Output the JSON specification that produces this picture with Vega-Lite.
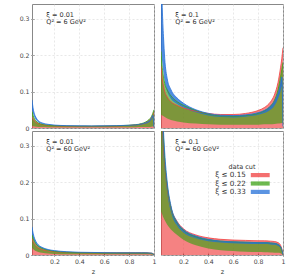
{
"$schema": "https://vega.github.io/schema/vega-lite/v6.json",
"padding": {"left": 19, "top": 3, "right": 5, "bottom": 5},
"config": {
  "font": "DejaVu Sans",
  "view": {"stroke": "#888888", "strokeWidth": 1},
  "axis": {"grid": true, "gridColor": "#d8d8d8", "gridDash": [2, 2], "gridWidth": 0.6, "domain": false, "tickColor": "#555555", "tickSize": -3, "labelPadding": 5, "labelFontSize": 6.2, "labelColor": "#444444", "labelOverlap": false, "labelFlush": false, "titleFontSize": 6.5, "titleFontWeight": "normal", "titleColor": "#333333"},
  "legend": {"orient": "none", "legendX": 183, "legendY": 160, "titleFontSize": 6.5, "titleFontWeight": "normal", "titleColor": "#333333", "labelFontSize": 7.2, "labelColor": "#333333", "symbolType": "M9.2,-0.6H14.6V0.6H9.2Z", "symbolSize": 49, "symbolStrokeWidth": 0, "symbolOpacity": 0.75, "labelAlign": "left", "labelOffset": -7, "rowPadding": 0.4, "titleAnchor": "middle", "titlePadding": 1}
},
"data": {"values": [
{"xi":0.01,"q2":6,"c":"ξ ≤ 0.15","z":0.02,"lo":0,"hi":0.030},
{"xi":0.01,"q2":6,"c":"ξ ≤ 0.15","z":0.03,"lo":0,"hi":0.024},
{"xi":0.01,"q2":6,"c":"ξ ≤ 0.15","z":0.04,"lo":0,"hi":0.019},
{"xi":0.01,"q2":6,"c":"ξ ≤ 0.15","z":0.05,"lo":0,"hi":0.016},
{"xi":0.01,"q2":6,"c":"ξ ≤ 0.15","z":0.07,"lo":0,"hi":0.012},
{"xi":0.01,"q2":6,"c":"ξ ≤ 0.15","z":0.1,"lo":0,"hi":0.009},
{"xi":0.01,"q2":6,"c":"ξ ≤ 0.15","z":0.15,"lo":0,"hi":0.007},
{"xi":0.01,"q2":6,"c":"ξ ≤ 0.15","z":0.2,"lo":0,"hi":0.006},
{"xi":0.01,"q2":6,"c":"ξ ≤ 0.15","z":0.3,"lo":0,"hi":0.005},
{"xi":0.01,"q2":6,"c":"ξ ≤ 0.15","z":0.4,"lo":0,"hi":0.0045},
{"xi":0.01,"q2":6,"c":"ξ ≤ 0.15","z":0.5,"lo":0,"hi":0.0045},
{"xi":0.01,"q2":6,"c":"ξ ≤ 0.15","z":0.6,"lo":0,"hi":0.005},
{"xi":0.01,"q2":6,"c":"ξ ≤ 0.15","z":0.7,"lo":0,"hi":0.0055},
{"xi":0.01,"q2":6,"c":"ξ ≤ 0.15","z":0.8,"lo":0,"hi":0.007},
{"xi":0.01,"q2":6,"c":"ξ ≤ 0.15","z":0.85,"lo":0,"hi":0.0085},
{"xi":0.01,"q2":6,"c":"ξ ≤ 0.15","z":0.9,"lo":0,"hi":0.011},
{"xi":0.01,"q2":6,"c":"ξ ≤ 0.15","z":0.93,"lo":0,"hi":0.014},
{"xi":0.01,"q2":6,"c":"ξ ≤ 0.15","z":0.96,"lo":0,"hi":0.020},
{"xi":0.01,"q2":6,"c":"ξ ≤ 0.15","z":0.98,"lo":0,"hi":0.028},
{"xi":0.01,"q2":6,"c":"ξ ≤ 0.15","z":0.99,"lo":0,"hi":0.035},
{"xi":0.01,"q2":6,"c":"ξ ≤ 0.15","z":1,"lo":0,"hi":0.045},
{"xi":0.01,"q2":6,"c":"ξ ≤ 0.22","z":0.02,"lo":0.006,"hi":0.045},
{"xi":0.01,"q2":6,"c":"ξ ≤ 0.22","z":0.03,"lo":0.005,"hi":0.033},
{"xi":0.01,"q2":6,"c":"ξ ≤ 0.22","z":0.04,"lo":0.004,"hi":0.025},
{"xi":0.01,"q2":6,"c":"ξ ≤ 0.22","z":0.05,"lo":0.0035,"hi":0.020},
{"xi":0.01,"q2":6,"c":"ξ ≤ 0.22","z":0.07,"lo":0.003,"hi":0.014},
{"xi":0.01,"q2":6,"c":"ξ ≤ 0.22","z":0.1,"lo":0.0025,"hi":0.010},
{"xi":0.01,"q2":6,"c":"ξ ≤ 0.22","z":0.15,"lo":0.002,"hi":0.0075},
{"xi":0.01,"q2":6,"c":"ξ ≤ 0.22","z":0.2,"lo":0.002,"hi":0.0065},
{"xi":0.01,"q2":6,"c":"ξ ≤ 0.22","z":0.3,"lo":0.002,"hi":0.0055},
{"xi":0.01,"q2":6,"c":"ξ ≤ 0.22","z":0.4,"lo":0.002,"hi":0.005},
{"xi":0.01,"q2":6,"c":"ξ ≤ 0.22","z":0.5,"lo":0.002,"hi":0.005},
{"xi":0.01,"q2":6,"c":"ξ ≤ 0.22","z":0.6,"lo":0.002,"hi":0.0052},
{"xi":0.01,"q2":6,"c":"ξ ≤ 0.22","z":0.7,"lo":0.002,"hi":0.006},
{"xi":0.01,"q2":6,"c":"ξ ≤ 0.22","z":0.8,"lo":0.002,"hi":0.0075},
{"xi":0.01,"q2":6,"c":"ξ ≤ 0.22","z":0.85,"lo":0.002,"hi":0.009},
{"xi":0.01,"q2":6,"c":"ξ ≤ 0.22","z":0.9,"lo":0.0025,"hi":0.012},
{"xi":0.01,"q2":6,"c":"ξ ≤ 0.22","z":0.93,"lo":0.003,"hi":0.016},
{"xi":0.01,"q2":6,"c":"ξ ≤ 0.22","z":0.96,"lo":0.003,"hi":0.023},
{"xi":0.01,"q2":6,"c":"ξ ≤ 0.22","z":0.98,"lo":0.0035,"hi":0.032},
{"xi":0.01,"q2":6,"c":"ξ ≤ 0.22","z":0.99,"lo":0.004,"hi":0.040},
{"xi":0.01,"q2":6,"c":"ξ ≤ 0.22","z":1,"lo":0.004,"hi":0.050},
{"xi":0.01,"q2":6,"c":"ξ ≤ 0.33","z":0.02,"lo":0.050,"hi":0.077},
{"xi":0.01,"q2":6,"c":"ξ ≤ 0.33","z":0.03,"lo":0.038,"hi":0.052},
{"xi":0.01,"q2":6,"c":"ξ ≤ 0.33","z":0.04,"lo":0.029,"hi":0.038},
{"xi":0.01,"q2":6,"c":"ξ ≤ 0.33","z":0.05,"lo":0.023,"hi":0.030},
{"xi":0.01,"q2":6,"c":"ξ ≤ 0.33","z":0.07,"lo":0.016,"hi":0.020},
{"xi":0.01,"q2":6,"c":"ξ ≤ 0.33","z":0.1,"lo":0.011,"hi":0.014},
{"xi":0.01,"q2":6,"c":"ξ ≤ 0.33","z":0.15,"lo":0.008,"hi":0.010},
{"xi":0.01,"q2":6,"c":"ξ ≤ 0.33","z":0.2,"lo":0.0065,"hi":0.008},
{"xi":0.01,"q2":6,"c":"ξ ≤ 0.33","z":0.3,"lo":0.0055,"hi":0.0065},
{"xi":0.01,"q2":6,"c":"ξ ≤ 0.33","z":0.4,"lo":0.005,"hi":0.006},
{"xi":0.01,"q2":6,"c":"ξ ≤ 0.33","z":0.5,"lo":0.0048,"hi":0.0058},
{"xi":0.01,"q2":6,"c":"ξ ≤ 0.33","z":0.6,"lo":0.005,"hi":0.006},
{"xi":0.01,"q2":6,"c":"ξ ≤ 0.33","z":0.7,"lo":0.0055,"hi":0.0065},
{"xi":0.01,"q2":6,"c":"ξ ≤ 0.33","z":0.8,"lo":0.0065,"hi":0.0075},
{"xi":0.01,"q2":6,"c":"ξ ≤ 0.33","z":0.85,"lo":0.0075,"hi":0.0085},
{"xi":0.01,"q2":6,"c":"ξ ≤ 0.33","z":0.9,"lo":0.0095,"hi":0.011},
{"xi":0.01,"q2":6,"c":"ξ ≤ 0.33","z":0.93,"lo":0.012,"hi":0.014},
{"xi":0.01,"q2":6,"c":"ξ ≤ 0.33","z":0.96,"lo":0.016,"hi":0.019},
{"xi":0.01,"q2":6,"c":"ξ ≤ 0.33","z":0.98,"lo":0.023,"hi":0.027},
{"xi":0.01,"q2":6,"c":"ξ ≤ 0.33","z":0.99,"lo":0.029,"hi":0.035},
{"xi":0.01,"q2":6,"c":"ξ ≤ 0.33","z":1,"lo":0,"hi":0.002},
{"xi":0.1,"q2":6,"c":"ξ ≤ 0.15","z":0.02,"lo":0,"hi":0.17},
{"xi":0.1,"q2":6,"c":"ξ ≤ 0.15","z":0.03,"lo":0,"hi":0.135},
{"xi":0.1,"q2":6,"c":"ξ ≤ 0.15","z":0.04,"lo":0,"hi":0.115},
{"xi":0.1,"q2":6,"c":"ξ ≤ 0.15","z":0.05,"lo":0,"hi":0.10},
{"xi":0.1,"q2":6,"c":"ξ ≤ 0.15","z":0.07,"lo":0,"hi":0.085},
{"xi":0.1,"q2":6,"c":"ξ ≤ 0.15","z":0.1,"lo":0,"hi":0.072},
{"xi":0.1,"q2":6,"c":"ξ ≤ 0.15","z":0.15,"lo":0,"hi":0.062},
{"xi":0.1,"q2":6,"c":"ξ ≤ 0.15","z":0.2,"lo":0,"hi":0.055},
{"xi":0.1,"q2":6,"c":"ξ ≤ 0.15","z":0.3,"lo":0,"hi":0.046},
{"xi":0.1,"q2":6,"c":"ξ ≤ 0.15","z":0.4,"lo":0,"hi":0.040},
{"xi":0.1,"q2":6,"c":"ξ ≤ 0.15","z":0.5,"lo":0,"hi":0.037},
{"xi":0.1,"q2":6,"c":"ξ ≤ 0.15","z":0.6,"lo":0,"hi":0.037},
{"xi":0.1,"q2":6,"c":"ξ ≤ 0.15","z":0.7,"lo":0,"hi":0.040},
{"xi":0.1,"q2":6,"c":"ξ ≤ 0.15","z":0.8,"lo":0,"hi":0.048},
{"xi":0.1,"q2":6,"c":"ξ ≤ 0.15","z":0.85,"lo":0,"hi":0.056},
{"xi":0.1,"q2":6,"c":"ξ ≤ 0.15","z":0.9,"lo":0,"hi":0.072},
{"xi":0.1,"q2":6,"c":"ξ ≤ 0.15","z":0.93,"lo":0,"hi":0.090},
{"xi":0.1,"q2":6,"c":"ξ ≤ 0.15","z":0.96,"lo":0,"hi":0.125},
{"xi":0.1,"q2":6,"c":"ξ ≤ 0.15","z":0.98,"lo":0,"hi":0.165},
{"xi":0.1,"q2":6,"c":"ξ ≤ 0.15","z":0.99,"lo":0,"hi":0.19},
{"xi":0.1,"q2":6,"c":"ξ ≤ 0.15","z":1,"lo":0,"hi":0.22},
{"xi":0.1,"q2":6,"c":"ξ ≤ 0.22","z":0.02,"lo":0.036,"hi":0.21},
{"xi":0.1,"q2":6,"c":"ξ ≤ 0.22","z":0.03,"lo":0.034,"hi":0.165},
{"xi":0.1,"q2":6,"c":"ξ ≤ 0.22","z":0.04,"lo":0.032,"hi":0.14},
{"xi":0.1,"q2":6,"c":"ξ ≤ 0.22","z":0.05,"lo":0.030,"hi":0.122},
{"xi":0.1,"q2":6,"c":"ξ ≤ 0.22","z":0.07,"lo":0.026,"hi":0.105},
{"xi":0.1,"q2":6,"c":"ξ ≤ 0.22","z":0.1,"lo":0.022,"hi":0.088},
{"xi":0.1,"q2":6,"c":"ξ ≤ 0.22","z":0.15,"lo":0.018,"hi":0.072},
{"xi":0.1,"q2":6,"c":"ξ ≤ 0.22","z":0.2,"lo":0.015,"hi":0.062},
{"xi":0.1,"q2":6,"c":"ξ ≤ 0.22","z":0.3,"lo":0.012,"hi":0.048},
{"xi":0.1,"q2":6,"c":"ξ ≤ 0.22","z":0.4,"lo":0.010,"hi":0.038},
{"xi":0.1,"q2":6,"c":"ξ ≤ 0.22","z":0.5,"lo":0.009,"hi":0.033},
{"xi":0.1,"q2":6,"c":"ξ ≤ 0.22","z":0.6,"lo":0.009,"hi":0.032},
{"xi":0.1,"q2":6,"c":"ξ ≤ 0.22","z":0.7,"lo":0.009,"hi":0.034},
{"xi":0.1,"q2":6,"c":"ξ ≤ 0.22","z":0.8,"lo":0.009,"hi":0.040},
{"xi":0.1,"q2":6,"c":"ξ ≤ 0.22","z":0.85,"lo":0.010,"hi":0.047},
{"xi":0.1,"q2":6,"c":"ξ ≤ 0.22","z":0.9,"lo":0.010,"hi":0.060},
{"xi":0.1,"q2":6,"c":"ξ ≤ 0.22","z":0.93,"lo":0.011,"hi":0.075},
{"xi":0.1,"q2":6,"c":"ξ ≤ 0.22","z":0.96,"lo":0.012,"hi":0.105},
{"xi":0.1,"q2":6,"c":"ξ ≤ 0.22","z":0.98,"lo":0.013,"hi":0.14},
{"xi":0.1,"q2":6,"c":"ξ ≤ 0.22","z":0.99,"lo":0.014,"hi":0.16},
{"xi":0.1,"q2":6,"c":"ξ ≤ 0.22","z":1,"lo":0.014,"hi":0.18},
{"xi":0.1,"q2":6,"c":"ξ ≤ 0.33","z":0.02,"lo":0.22,"hi":0.45},
{"xi":0.1,"q2":6,"c":"ξ ≤ 0.33","z":0.03,"lo":0.18,"hi":0.33},
{"xi":0.1,"q2":6,"c":"ξ ≤ 0.33","z":0.04,"lo":0.15,"hi":0.25},
{"xi":0.1,"q2":6,"c":"ξ ≤ 0.33","z":0.05,"lo":0.125,"hi":0.19},
{"xi":0.1,"q2":6,"c":"ξ ≤ 0.33","z":0.07,"lo":0.10,"hi":0.135},
{"xi":0.1,"q2":6,"c":"ξ ≤ 0.33","z":0.1,"lo":0.08,"hi":0.105},
{"xi":0.1,"q2":6,"c":"ξ ≤ 0.33","z":0.15,"lo":0.066,"hi":0.082},
{"xi":0.1,"q2":6,"c":"ξ ≤ 0.33","z":0.2,"lo":0.056,"hi":0.068},
{"xi":0.1,"q2":6,"c":"ξ ≤ 0.33","z":0.3,"lo":0.043,"hi":0.050},
{"xi":0.1,"q2":6,"c":"ξ ≤ 0.33","z":0.4,"lo":0.034,"hi":0.040},
{"xi":0.1,"q2":6,"c":"ξ ≤ 0.33","z":0.5,"lo":0.030,"hi":0.035},
{"xi":0.1,"q2":6,"c":"ξ ≤ 0.33","z":0.6,"lo":0.029,"hi":0.034},
{"xi":0.1,"q2":6,"c":"ξ ≤ 0.33","z":0.7,"lo":0.031,"hi":0.036},
{"xi":0.1,"q2":6,"c":"ξ ≤ 0.33","z":0.8,"lo":0.036,"hi":0.042},
{"xi":0.1,"q2":6,"c":"ξ ≤ 0.33","z":0.85,"lo":0.041,"hi":0.048},
{"xi":0.1,"q2":6,"c":"ξ ≤ 0.33","z":0.9,"lo":0.050,"hi":0.060},
{"xi":0.1,"q2":6,"c":"ξ ≤ 0.33","z":0.93,"lo":0.060,"hi":0.072},
{"xi":0.1,"q2":6,"c":"ξ ≤ 0.33","z":0.96,"lo":0.080,"hi":0.095},
{"xi":0.1,"q2":6,"c":"ξ ≤ 0.33","z":0.98,"lo":0.10,"hi":0.12},
{"xi":0.1,"q2":6,"c":"ξ ≤ 0.33","z":0.99,"lo":0.115,"hi":0.14},
{"xi":0.1,"q2":6,"c":"ξ ≤ 0.33","z":1,"lo":0,"hi":0.005},
{"xi":0.01,"q2":60,"c":"ξ ≤ 0.15","z":0.02,"lo":0,"hi":0.045},
{"xi":0.01,"q2":60,"c":"ξ ≤ 0.15","z":0.03,"lo":0,"hi":0.036},
{"xi":0.01,"q2":60,"c":"ξ ≤ 0.15","z":0.04,"lo":0,"hi":0.030},
{"xi":0.01,"q2":60,"c":"ξ ≤ 0.15","z":0.05,"lo":0,"hi":0.026},
{"xi":0.01,"q2":60,"c":"ξ ≤ 0.15","z":0.07,"lo":0,"hi":0.020},
{"xi":0.01,"q2":60,"c":"ξ ≤ 0.15","z":0.1,"lo":0,"hi":0.015},
{"xi":0.01,"q2":60,"c":"ξ ≤ 0.15","z":0.15,"lo":0,"hi":0.011},
{"xi":0.01,"q2":60,"c":"ξ ≤ 0.15","z":0.2,"lo":0,"hi":0.009},
{"xi":0.01,"q2":60,"c":"ξ ≤ 0.15","z":0.3,"lo":0,"hi":0.007},
{"xi":0.01,"q2":60,"c":"ξ ≤ 0.15","z":0.4,"lo":0,"hi":0.0065},
{"xi":0.01,"q2":60,"c":"ξ ≤ 0.15","z":0.5,"lo":0,"hi":0.006},
{"xi":0.01,"q2":60,"c":"ξ ≤ 0.15","z":0.6,"lo":0,"hi":0.006},
{"xi":0.01,"q2":60,"c":"ξ ≤ 0.15","z":0.7,"lo":0,"hi":0.006},
{"xi":0.01,"q2":60,"c":"ξ ≤ 0.15","z":0.8,"lo":0,"hi":0.006},
{"xi":0.01,"q2":60,"c":"ξ ≤ 0.15","z":0.85,"lo":0,"hi":0.006},
{"xi":0.01,"q2":60,"c":"ξ ≤ 0.15","z":0.9,"lo":0,"hi":0.006},
{"xi":0.01,"q2":60,"c":"ξ ≤ 0.15","z":0.93,"lo":0,"hi":0.006},
{"xi":0.01,"q2":60,"c":"ξ ≤ 0.15","z":0.96,"lo":0,"hi":0.0055},
{"xi":0.01,"q2":60,"c":"ξ ≤ 0.15","z":0.98,"lo":0,"hi":0.005},
{"xi":0.01,"q2":60,"c":"ξ ≤ 0.15","z":0.99,"lo":0,"hi":0.004},
{"xi":0.01,"q2":60,"c":"ξ ≤ 0.15","z":1,"lo":0,"hi":0.002},
{"xi":0.01,"q2":60,"c":"ξ ≤ 0.22","z":0.02,"lo":0.020,"hi":0.055},
{"xi":0.01,"q2":60,"c":"ξ ≤ 0.22","z":0.03,"lo":0.016,"hi":0.045},
{"xi":0.01,"q2":60,"c":"ξ ≤ 0.22","z":0.04,"lo":0.013,"hi":0.037},
{"xi":0.01,"q2":60,"c":"ξ ≤ 0.22","z":0.05,"lo":0.011,"hi":0.031},
{"xi":0.01,"q2":60,"c":"ξ ≤ 0.22","z":0.07,"lo":0.008,"hi":0.024},
{"xi":0.01,"q2":60,"c":"ξ ≤ 0.22","z":0.1,"lo":0.006,"hi":0.018},
{"xi":0.01,"q2":60,"c":"ξ ≤ 0.22","z":0.15,"lo":0.004,"hi":0.013},
{"xi":0.01,"q2":60,"c":"ξ ≤ 0.22","z":0.2,"lo":0.003,"hi":0.010},
{"xi":0.01,"q2":60,"c":"ξ ≤ 0.22","z":0.3,"lo":0.002,"hi":0.0075},
{"xi":0.01,"q2":60,"c":"ξ ≤ 0.22","z":0.4,"lo":0.002,"hi":0.0065},
{"xi":0.01,"q2":60,"c":"ξ ≤ 0.22","z":0.5,"lo":0.002,"hi":0.006},
{"xi":0.01,"q2":60,"c":"ξ ≤ 0.22","z":0.6,"lo":0.002,"hi":0.0055},
{"xi":0.01,"q2":60,"c":"ξ ≤ 0.22","z":0.7,"lo":0.002,"hi":0.0055},
{"xi":0.01,"q2":60,"c":"ξ ≤ 0.22","z":0.8,"lo":0.002,"hi":0.0055},
{"xi":0.01,"q2":60,"c":"ξ ≤ 0.22","z":0.85,"lo":0.002,"hi":0.0055},
{"xi":0.01,"q2":60,"c":"ξ ≤ 0.22","z":0.9,"lo":0.002,"hi":0.0055},
{"xi":0.01,"q2":60,"c":"ξ ≤ 0.22","z":0.93,"lo":0.002,"hi":0.0055},
{"xi":0.01,"q2":60,"c":"ξ ≤ 0.22","z":0.96,"lo":0.002,"hi":0.005},
{"xi":0.01,"q2":60,"c":"ξ ≤ 0.22","z":0.98,"lo":0.0015,"hi":0.0045},
{"xi":0.01,"q2":60,"c":"ξ ≤ 0.22","z":0.99,"lo":0.001,"hi":0.0035},
{"xi":0.01,"q2":60,"c":"ξ ≤ 0.22","z":1,"lo":0,"hi":0.001},
{"xi":0.01,"q2":60,"c":"ξ ≤ 0.33","z":0.02,"lo":0.055,"hi":0.077},
{"xi":0.01,"q2":60,"c":"ξ ≤ 0.33","z":0.03,"lo":0.044,"hi":0.058},
{"xi":0.01,"q2":60,"c":"ξ ≤ 0.33","z":0.04,"lo":0.036,"hi":0.046},
{"xi":0.01,"q2":60,"c":"ξ ≤ 0.33","z":0.05,"lo":0.030,"hi":0.038},
{"xi":0.01,"q2":60,"c":"ξ ≤ 0.33","z":0.07,"lo":0.023,"hi":0.028},
{"xi":0.01,"q2":60,"c":"ξ ≤ 0.33","z":0.1,"lo":0.017,"hi":0.021},
{"xi":0.01,"q2":60,"c":"ξ ≤ 0.33","z":0.15,"lo":0.012,"hi":0.015},
{"xi":0.01,"q2":60,"c":"ξ ≤ 0.33","z":0.2,"lo":0.0095,"hi":0.012},
{"xi":0.01,"q2":60,"c":"ξ ≤ 0.33","z":0.3,"lo":0.007,"hi":0.009},
{"xi":0.01,"q2":60,"c":"ξ ≤ 0.33","z":0.4,"lo":0.006,"hi":0.0075},
{"xi":0.01,"q2":60,"c":"ξ ≤ 0.33","z":0.5,"lo":0.0055,"hi":0.007},
{"xi":0.01,"q2":60,"c":"ξ ≤ 0.33","z":0.6,"lo":0.005,"hi":0.0065},
{"xi":0.01,"q2":60,"c":"ξ ≤ 0.33","z":0.7,"lo":0.005,"hi":0.006},
{"xi":0.01,"q2":60,"c":"ξ ≤ 0.33","z":0.8,"lo":0.005,"hi":0.006},
{"xi":0.01,"q2":60,"c":"ξ ≤ 0.33","z":0.85,"lo":0.005,"hi":0.006},
{"xi":0.01,"q2":60,"c":"ξ ≤ 0.33","z":0.9,"lo":0.005,"hi":0.006},
{"xi":0.01,"q2":60,"c":"ξ ≤ 0.33","z":0.93,"lo":0.005,"hi":0.006},
{"xi":0.01,"q2":60,"c":"ξ ≤ 0.33","z":0.96,"lo":0.0045,"hi":0.0055},
{"xi":0.01,"q2":60,"c":"ξ ≤ 0.33","z":0.98,"lo":0.004,"hi":0.005},
{"xi":0.01,"q2":60,"c":"ξ ≤ 0.33","z":0.99,"lo":0.003,"hi":0.004},
{"xi":0.01,"q2":60,"c":"ξ ≤ 0.33","z":1,"lo":0,"hi":0.0005},
{"xi":0.1,"q2":60,"c":"ξ ≤ 0.15","z":0.02,"lo":0,"hi":0.45},
{"xi":0.1,"q2":60,"c":"ξ ≤ 0.15","z":0.03,"lo":0,"hi":0.37},
{"xi":0.1,"q2":60,"c":"ξ ≤ 0.15","z":0.04,"lo":0,"hi":0.30},
{"xi":0.1,"q2":60,"c":"ξ ≤ 0.15","z":0.05,"lo":0,"hi":0.25},
{"xi":0.1,"q2":60,"c":"ξ ≤ 0.15","z":0.07,"lo":0,"hi":0.185},
{"xi":0.1,"q2":60,"c":"ξ ≤ 0.15","z":0.1,"lo":0,"hi":0.13},
{"xi":0.1,"q2":60,"c":"ξ ≤ 0.15","z":0.15,"lo":0,"hi":0.092},
{"xi":0.1,"q2":60,"c":"ξ ≤ 0.15","z":0.2,"lo":0,"hi":0.072},
{"xi":0.1,"q2":60,"c":"ξ ≤ 0.15","z":0.3,"lo":0,"hi":0.055},
{"xi":0.1,"q2":60,"c":"ξ ≤ 0.15","z":0.4,"lo":0,"hi":0.047},
{"xi":0.1,"q2":60,"c":"ξ ≤ 0.15","z":0.5,"lo":0,"hi":0.043},
{"xi":0.1,"q2":60,"c":"ξ ≤ 0.15","z":0.6,"lo":0,"hi":0.041},
{"xi":0.1,"q2":60,"c":"ξ ≤ 0.15","z":0.7,"lo":0,"hi":0.040},
{"xi":0.1,"q2":60,"c":"ξ ≤ 0.15","z":0.8,"lo":0,"hi":0.039},
{"xi":0.1,"q2":60,"c":"ξ ≤ 0.15","z":0.85,"lo":0,"hi":0.039},
{"xi":0.1,"q2":60,"c":"ξ ≤ 0.15","z":0.9,"lo":0,"hi":0.038},
{"xi":0.1,"q2":60,"c":"ξ ≤ 0.15","z":0.93,"lo":0,"hi":0.037},
{"xi":0.1,"q2":60,"c":"ξ ≤ 0.15","z":0.96,"lo":0,"hi":0.034},
{"xi":0.1,"q2":60,"c":"ξ ≤ 0.15","z":0.98,"lo":0,"hi":0.027},
{"xi":0.1,"q2":60,"c":"ξ ≤ 0.15","z":0.99,"lo":0,"hi":0.018},
{"xi":0.1,"q2":60,"c":"ξ ≤ 0.15","z":1,"lo":0,"hi":0.001},
{"xi":0.1,"q2":60,"c":"ξ ≤ 0.22","z":0.02,"lo":0.12,"hi":0.50},
{"xi":0.1,"q2":60,"c":"ξ ≤ 0.22","z":0.03,"lo":0.111,"hi":0.40},
{"xi":0.1,"q2":60,"c":"ξ ≤ 0.22","z":0.04,"lo":0.102,"hi":0.32},
{"xi":0.1,"q2":60,"c":"ξ ≤ 0.22","z":0.05,"lo":0.095,"hi":0.26},
{"xi":0.1,"q2":60,"c":"ξ ≤ 0.22","z":0.07,"lo":0.083,"hi":0.19},
{"xi":0.1,"q2":60,"c":"ξ ≤ 0.22","z":0.1,"lo":0.070,"hi":0.13},
{"xi":0.1,"q2":60,"c":"ξ ≤ 0.22","z":0.15,"lo":0.055,"hi":0.088},
{"xi":0.1,"q2":60,"c":"ξ ≤ 0.22","z":0.2,"lo":0.042,"hi":0.068},
{"xi":0.1,"q2":60,"c":"ξ ≤ 0.22","z":0.3,"lo":0.027,"hi":0.050},
{"xi":0.1,"q2":60,"c":"ξ ≤ 0.22","z":0.4,"lo":0.018,"hi":0.042},
{"xi":0.1,"q2":60,"c":"ξ ≤ 0.22","z":0.5,"lo":0.013,"hi":0.038},
{"xi":0.1,"q2":60,"c":"ξ ≤ 0.22","z":0.6,"lo":0.011,"hi":0.036},
{"xi":0.1,"q2":60,"c":"ξ ≤ 0.22","z":0.7,"lo":0.009,"hi":0.035},
{"xi":0.1,"q2":60,"c":"ξ ≤ 0.22","z":0.8,"lo":0.008,"hi":0.034},
{"xi":0.1,"q2":60,"c":"ξ ≤ 0.22","z":0.85,"lo":0.0075,"hi":0.034},
{"xi":0.1,"q2":60,"c":"ξ ≤ 0.22","z":0.9,"lo":0.007,"hi":0.033},
{"xi":0.1,"q2":60,"c":"ξ ≤ 0.22","z":0.93,"lo":0.0065,"hi":0.032},
{"xi":0.1,"q2":60,"c":"ξ ≤ 0.22","z":0.96,"lo":0.006,"hi":0.029},
{"xi":0.1,"q2":60,"c":"ξ ≤ 0.22","z":0.98,"lo":0.005,"hi":0.022},
{"xi":0.1,"q2":60,"c":"ξ ≤ 0.22","z":0.99,"lo":0.003,"hi":0.014},
{"xi":0.1,"q2":60,"c":"ξ ≤ 0.22","z":1,"lo":0,"hi":0.001},
{"xi":0.1,"q2":60,"c":"ξ ≤ 0.33","z":0.02,"lo":0.40,"hi":0.55},
{"xi":0.1,"q2":60,"c":"ξ ≤ 0.33","z":0.03,"lo":0.33,"hi":0.43},
{"xi":0.1,"q2":60,"c":"ξ ≤ 0.33","z":0.04,"lo":0.27,"hi":0.34},
{"xi":0.1,"q2":60,"c":"ξ ≤ 0.33","z":0.05,"lo":0.23,"hi":0.28},
{"xi":0.1,"q2":60,"c":"ξ ≤ 0.33","z":0.07,"lo":0.17,"hi":0.20},
{"xi":0.1,"q2":60,"c":"ξ ≤ 0.33","z":0.1,"lo":0.118,"hi":0.135},
{"xi":0.1,"q2":60,"c":"ξ ≤ 0.33","z":0.15,"lo":0.08,"hi":0.09},
{"xi":0.1,"q2":60,"c":"ξ ≤ 0.33","z":0.2,"lo":0.062,"hi":0.070},
{"xi":0.1,"q2":60,"c":"ξ ≤ 0.33","z":0.3,"lo":0.046,"hi":0.052},
{"xi":0.1,"q2":60,"c":"ξ ≤ 0.33","z":0.4,"lo":0.038,"hi":0.043},
{"xi":0.1,"q2":60,"c":"ξ ≤ 0.33","z":0.5,"lo":0.034,"hi":0.038},
{"xi":0.1,"q2":60,"c":"ξ ≤ 0.33","z":0.6,"lo":0.032,"hi":0.036},
{"xi":0.1,"q2":60,"c":"ξ ≤ 0.33","z":0.7,"lo":0.031,"hi":0.035},
{"xi":0.1,"q2":60,"c":"ξ ≤ 0.33","z":0.8,"lo":0.030,"hi":0.034},
{"xi":0.1,"q2":60,"c":"ξ ≤ 0.33","z":0.85,"lo":0.030,"hi":0.034},
{"xi":0.1,"q2":60,"c":"ξ ≤ 0.33","z":0.9,"lo":0.029,"hi":0.033},
{"xi":0.1,"q2":60,"c":"ξ ≤ 0.33","z":0.93,"lo":0.028,"hi":0.032},
{"xi":0.1,"q2":60,"c":"ξ ≤ 0.33","z":0.96,"lo":0.025,"hi":0.029},
{"xi":0.1,"q2":60,"c":"ξ ≤ 0.33","z":0.98,"lo":0.019,"hi":0.023},
{"xi":0.1,"q2":60,"c":"ξ ≤ 0.33","z":0.99,"lo":0.012,"hi":0.015},
{"xi":0.1,"q2":60,"c":"ξ ≤ 0.33","z":1,"lo":0,"hi":0.001}
]},
"facet": {
  "row": {"field": "q2", "type": "ordinal", "header": {"title": null, "labels": false}},
  "column": {"field": "xi", "type": "ordinal", "header": {"title": null, "labels": false}}
},
"spacing": {"row": 1, "column": 5},
"spec": {
  "width": 122,
  "height": 124,
  "layer": [
    {
      "mark": {"type": "area", "interpolate": "monotone", "clip": true},
      "encoding": {
        "x": {"field": "z", "type": "quantitative", "scale": {"domain": [0.02, 1], "nice": false, "zero": false}, "axis": {"tickCount": 5, "format": "~g", "title": "z", "labelOverlap": false, "labelFlush": false}},
        "y": {"field": "hi", "type": "quantitative", "scale": {"domain": [0, 0.34], "nice": false}, "axis": {"values": [0, 0.05, 0.1, 0.15, 0.2, 0.25, 0.3], "format": "~g", "title": null, "labelOverlap": false}},
        "y2": {"field": "lo"},
        "color": {"field": "c", "type": "nominal", "title": "data cut", "scale": {"domain": ["ξ ≤ 0.15", "ξ ≤ 0.22", "ξ ≤ 0.33"], "range": ["#f03f3f", "#3ca116", "#2470d8"]}},
        "opacity": {"condition": {"test": "datum.c === 'ξ ≤ 0.33'", "value": 0.8}, "value": 0.65}
      }
    },
    {
      "mark": {"type": "line", "interpolate": "monotone", "strokeWidth": 0.8, "clip": true},
      "encoding": {
        "x": {"field": "z", "type": "quantitative"},
        "y": {"field": "hi", "type": "quantitative"},
        "color": {"field": "c", "type": "nominal"}
      }
    },
    {
      "transform": [
        {"aggregate": [{"op": "count", "as": "n"}], "groupby": ["xi", "q2"]},
        {"calculate": "'ξ = ' + datum.xi + '\\nQ² = ' + datum.q2 + ' GeV²'", "as": "label"}
      ],
      "mark": {"type": "text", "align": "left", "baseline": "top", "fontSize": 6.5, "lineHeight": 7, "lineBreak": "\n", "color": "#333333"},
      "encoding": {
        "x": {"datum": 0.135, "type": "quantitative"},
        "y": {"datum": 0.318, "type": "quantitative"},
        "text": {"field": "label"}
      }
    }
  ]
}
}
